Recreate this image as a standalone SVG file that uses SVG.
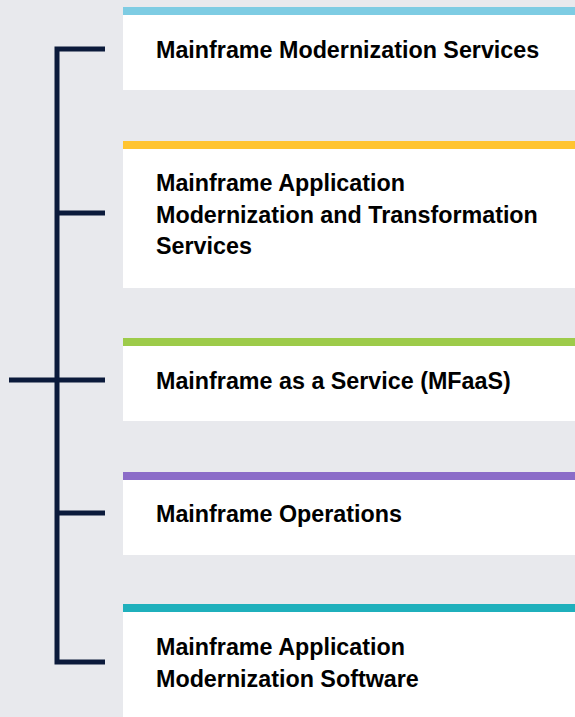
<svg xmlns="http://www.w3.org/2000/svg" width="575" height="717" viewBox="0 0 575 717">
<style>
.box{fill:#ffffff}
.t{font-family:"Liberation Sans",Arial,sans-serif;font-weight:bold;font-size:23.3px;fill:#000000}
.c{stroke:#0B1A3B;stroke-width:5;fill:none}
</style>
<rect width="575" height="717" fill="#E8E9ED"/>
<g id="connectors">
<path class="c" d="M105 49 H57 V662 H105"/>
<path class="c" d="M57 213 H105"/>
<path class="c" d="M9 380 H105"/>
<path class="c" d="M57 513 H105"/>
</g>
<g id="node1">
<rect class="box" x="123" y="15" width="452" height="75"/>
<rect x="123" y="7" width="452" height="8" fill="#7ECCE3"/>
<text class="t" x="156" y="58">Mainframe Modernization Services</text>
</g>
<g id="node2">
<rect class="box" x="123" y="149" width="452" height="139"/>
<rect x="123" y="141" width="452" height="8" fill="#FFC430"/>
<text class="t" x="156" y="191">Mainframe Application</text>
<text class="t" x="156" y="222.5">Modernization and Transformation</text>
<text class="t" x="156" y="254">Services</text>
</g>
<g id="node3">
<rect class="box" x="123" y="346" width="452" height="75"/>
<rect x="123" y="338" width="452" height="8" fill="#9DCB4A"/>
<text class="t" x="156" y="389">Mainframe as a Service (MFaaS)</text>
</g>
<g id="node4">
<rect class="box" x="123" y="480" width="452" height="75"/>
<rect x="123" y="472" width="452" height="8" fill="#8B6CC8"/>
<text class="t" x="156" y="522">Mainframe Operations</text>
</g>
<g id="node5">
<rect class="box" x="123" y="612" width="452" height="105"/>
<rect x="123" y="604" width="452" height="8" fill="#1FB0BC"/>
<text class="t" x="156" y="655">Mainframe Application</text>
<text class="t" x="156" y="687">Modernization Software</text>
</g>
</svg>
